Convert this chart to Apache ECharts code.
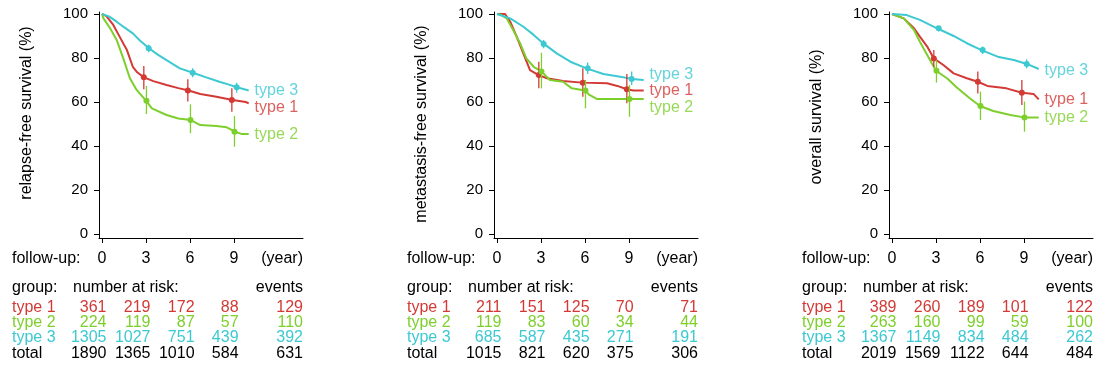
<!DOCTYPE html>
<html>
<head>
<meta charset="utf-8">
<script src="https://cdn.jsdelivr.net/npm/echarts@6/dist/echarts.min.js"></script>
<style>
  html, body { margin: 0; padding: 0; background: #fff; }
  #chart { width: 1095px; height: 369px; }
</style>
</head>
<body>
<div id="chart"></div>
<script>
// ---- labels ----
const groupNames = ['type 1', 'type 2', 'type 3'];
const panelTitles = ['relapse-free survival (%)', 'metastasis-free survival (%)', 'overall survival (%)'];
const yTickValues = [0, 20, 40, 60, 80, 100];
const followUpYears = [0, 3, 6, 9];

// ---- Kaplan-Meier curves: [years, survival %] ----
const rfsType1 = [[0,100],[0.3,99],[0.77,95],[1.2,89.7],[1.5,86],[1.7,83.6],[2.1,76],[2.4,73.5],[2.86,71.2],[3.5,69.5],[4.4,67.7],[5.2,66.3],[5.9,65.2],[6.7,63.6],[7.8,62.4],[8.9,60.9],[9.8,60],[10,59.4]];
const rfsType2 = [[0,100],[0.1,98],[0.55,93.5],[1.0,88.2],[1.45,79.8],[1.9,70.8],[2.36,65.5],[3.0,60.6],[3.4,57.1],[4.4,54.1],[5.2,52.5],[6.05,51.8],[6.7,49.5],[7.8,49.1],[8.5,48.5],[9.07,46.5],[9.5,45.5],[10,45.5]];
const rfsType3 = [[0,100],[0.5,98.8],[1.0,96.5],[1.5,94],[2.1,91.2],[2.6,87.8],[3.2,84.4],[3.8,81.5],[4.4,79],[5.3,75.3],[6.2,73.3],[7.1,71.2],[8.0,69.2],[8.6,68],[9.2,66.7],[10,65.2]];

const mfsType1 = [[0,100],[0.55,100],[0.9,96.5],[1.34,89.7],[1.8,82],[2.25,74.5],[2.8,72.3],[3.4,70.8],[4.5,69.5],[5.8,68.8],[7.5,68.5],[8.2,67.3],[8.85,65.8],[9.3,65.2],[10,65.2]];
const mfsType2 = [[0,100],[0.3,99.5],[0.66,98],[1.1,92.7],[1.57,86.7],[2.0,79.8],[2.5,76],[3.05,73.8],[3.6,70],[4.5,69.2],[5.1,66.2],[6.0,65.2],[6.3,63.2],[6.8,61.4],[9.0,61.4],[10,61.4]];
const mfsType3 = [[0,100],[0.9,98],[1.8,94.2],[2.5,90.5],[3.2,86.4],[4.07,82.1],[5.0,78.3],[6.1,75.3],[7.25,72.7],[8.4,71.5],[9.2,70.5],[10,70]];

const osType1 = [[0,100],[0.8,98],[1.5,93.5],[1.9,89.7],[2.4,85.2],[2.85,79.8],[3.5,76.8],[4.2,73],[5.1,70.8],[5.85,69.2],[6.5,67.3],[7.8,66.2],[8.86,64.2],[9.66,63.6],[10,61.2]];
const osType2 = [[0,100],[0.8,98],[1.5,92.7],[1.9,87.4],[2.4,81.4],[3.0,74.2],[3.75,70.8],[4.4,66.7],[5.3,61.7],[6.0,58.2],[6.9,55.9],[8.07,54.1],[9.0,53],[10,53]];
const osType3 = [[0,100],[1.0,99.5],[1.9,97.3],[3.07,93.5],[4.2,90],[5.1,86.7],[6.1,83.6],[7.2,80.6],[8.3,79.1],[9.2,77.3],[10,75]];

// ---- estimates with 95% CI at 3, 6, 9 years: [estimate, lower, upper] ----
const rfsCi1 = [[71.2,65.8,76.4],[65.2,60.2,70.3],[60.9,55.6,66.2]];
const rfsCi2 = [[60.6,54.5,67.3],[51.8,45.8,58.9],[46.5,39.7,53.6]];
const rfsCi3 = [[84.4,82.6,86.0],[73.3,71.2,75.3],[66.7,64.2,68.8]];

const mfsCi1 = [[72.3,66.2,78.3],[68.8,62.4,75.3],[65.8,59.4,72.7]];
const mfsCi2 = [[73.8,66.2,82.4],[65.2,57.1,70.0],[61.4,53.3,67.7]];
const mfsCi3 = [[86.4,84.4,88.2],[75.3,72.7,77.9],[70.5,67.7,73.8]];

const osCi1 = [[79.8,76.0,83.6],[69.2,63.9,73.8],[64.2,58.6,70.0]];
const osCi2 = [[74.2,68.8,79.1],[58.2,51.8,64.7],[53.0,46.5,60.2]];
const osCi3 = [[93.5,92.0,94.5],[83.6,81.8,85.2],[77.3,75.3,79.4]];
const ciYears = [3, 6, 9];

// ---- number at risk (at 0, 3, 6, 9 years) and events ----
const rfsRisk1 = [361, 219, 172, 88],   rfsEvents1 = 129;
const rfsRisk2 = [224, 119, 87, 57],    rfsEvents2 = 110;
const rfsRisk3 = [1305, 1027, 751, 439], rfsEvents3 = 392;

const mfsRisk1 = [211, 151, 125, 70],   mfsEvents1 = 71;
const mfsRisk2 = [119, 83, 60, 34],     mfsEvents2 = 44;
const mfsRisk3 = [685, 587, 435, 271],  mfsEvents3 = 191;

const osRisk1 = [389, 260, 189, 101],   osEvents1 = 122;
const osRisk2 = [263, 160, 99, 59],     osEvents2 = 100;
const osRisk3 = [1367, 1149, 834, 484], osEvents3 = 262;

// ---- assembly ----
const panels = [
  { curves: [rfsType1, rfsType2, rfsType3], ci: [rfsCi1, rfsCi2, rfsCi3],
    risk: [rfsRisk1, rfsRisk2, rfsRisk3], events: [rfsEvents1, rfsEvents2, rfsEvents3] },
  { curves: [mfsType1, mfsType2, mfsType3], ci: [mfsCi1, mfsCi2, mfsCi3],
    risk: [mfsRisk1, mfsRisk2, mfsRisk3], events: [mfsEvents1, mfsEvents2, mfsEvents3] },
  { curves: [osType1, osType2, osType3], ci: [osCi1, osCi2, osCi3],
    risk: [osRisk1, osRisk2, osRisk3], events: [osEvents1, osEvents2, osEvents3] }
];

// layout / style
const colors = ['#d33a36', '#7dcf2c', '#3cc9d2'];
const FONT = '"Liberation Sans", Arial, Helvetica, sans-serif';
const gridLefts = [99, 494, 889];
const GRID_TOP = 12, GRID_H = 226, GRID_W = 204;
const X_MIN = -0.2045, X_MAX = 13.7;
const Y_MIN = -1.82, Y_MAX = 100.9;
const ciDodge = [-0.15, 0.03, 0.18];          // horizontal offset of CI marks per group
const endLabelX = 10.4;                        // where the group names start
const endLabelY = [[57.6, 45.0, 65.2], [65.2, 57.6, 72.3], [60.9, 53.0, 74.1]];
const ROW_FOLLOW = 259, ROW_GROUP = 288, ROW_BODY = [308, 323, 338, 354];
const titleCenters = [113, 124, 117];

const chart = echarts.init(document.getElementById('chart'), null, { renderer: 'canvas' });

const grids = [], xAxes = [], yAxes = [], series = [];
panels.forEach((p, i) => {
  grids.push({ left: gridLefts[i], top: GRID_TOP, width: GRID_W, height: GRID_H, containLabel: false });
  xAxes.push({
    gridIndex: i, type: 'value', min: X_MIN, max: X_MAX,
    axisLine: { show: true, onZero: false, lineStyle: { color: '#000', width: 1 } },
    axisTick: { show: true, inside: false, length: 5, customValues: followUpYears, lineStyle: { color: '#000' } },
    axisLabel: { show: true, customValues: followUpYears, margin: 13, fontSize: 16, color: '#000', fontFamily: FONT },
    splitLine: { show: false }
  });
  yAxes.push({
    gridIndex: i, type: 'value', min: Y_MIN, max: Y_MAX,
    axisLine: { show: true, onZero: false, lineStyle: { color: '#000', width: 1 } },
    axisTick: { show: true, inside: false, length: 5, customValues: yTickValues, lineStyle: { color: '#000' } },
    axisLabel: { show: true, customValues: yTickValues, margin: 11, fontSize: 15, color: '#000', fontFamily: FONT },
    splitLine: { show: false }
  });

  p.curves.forEach((c, g) => {
    series.push({
      type: 'line', xAxisIndex: i, yAxisIndex: i, data: c, showSymbol: false, symbol: 'none',
      lineStyle: { color: colors[g], width: 2 }, z: 2, silent: true
    });
  });

  p.ci.forEach((rows, g) => {
    series.push({
      type: 'custom', xAxisIndex: i, yAxisIndex: i, z: 3, silent: true,
      data: rows.map((r, k) => [ciYears[k] + ciDodge[g], r[0], r[1], r[2]]),
      encode: { x: 0, y: [1, 2, 3] },
      renderItem: (params, api) => {
        const x = api.value(0);
        const pe = api.coord([x, api.value(1)]);
        const pl = api.coord([x, api.value(2)]);
        const ph = api.coord([x, api.value(3)]);
        return {
          type: 'group', children: [
            { type: 'line', shape: { x1: pl[0], y1: pl[1], x2: ph[0], y2: ph[1] },
              style: { stroke: colors[g], lineWidth: 1.3 } },
            { type: 'circle', shape: { cx: pe[0], cy: pe[1], r: 3 }, style: { fill: colors[g] } }
          ]
        };
      }
    });
  });

  groupNames.forEach((name, g) => {
    series.push({
      type: 'scatter', xAxisIndex: i, yAxisIndex: i, symbolSize: 0, silent: true,
      data: [[endLabelX, endLabelY[i][g]]],
      label: { show: true, position: 'right', distance: 0, formatter: name,
               fontSize: 16, color: colors[g], fontFamily: FONT }
    });
  });
});

chart.setOption({
  animation: false,
  backgroundColor: '#fff',
  textStyle: { fontFamily: FONT },
  grid: grids, xAxis: xAxes, yAxis: yAxes, series: series
});

// number-at-risk table and axis titles, positioned through the x scales
const graphics = [];
function txt(text, x, y, align, color, extra) {
  graphics.push(Object.assign({
    type: 'text', x: x, y: y,
    style: { text: text, fill: color || '#000', font: '16px ' + FONT, textAlign: align, textVerticalAlign: 'middle' },
    silent: true
  }, extra || {}));
}
panels.forEach((p, i) => {
  const px = t => chart.convertToPixel({ xAxisIndex: i }, t);
  const x0 = px(0), xEnd = px(X_MAX);
  const totals = followUpYears.map((_, k) => p.risk.reduce((s, r) => s + r[k], 0));
  const totalEvents = p.events.reduce((s, e) => s + e, 0);

  txt('follow-up:', x0 - 90, ROW_FOLLOW, 'left');
  txt('(year)', xEnd, ROW_FOLLOW, 'right');
  txt('group:', x0 - 90, ROW_GROUP, 'left');
  txt('number at risk:', x0 - 29, ROW_GROUP, 'left');
  txt('events', xEnd, ROW_GROUP, 'right');

  const rows = p.risk.map((r, g) => ({ name: groupNames[g], risk: r, ev: p.events[g], color: colors[g] }));
  rows.push({ name: 'total', risk: totals, ev: totalEvents, color: '#000' });
  rows.forEach((row, r) => {
    const y = ROW_BODY[r];
    txt(row.name, x0 - 90, y, 'left', row.color);
    row.risk.forEach((n, k) => txt(String(n), px(followUpYears[k]) + 4.5, y, 'right', row.color));
    txt(String(row.ev), xEnd, y, 'right', row.color);
  });

  txt(panelTitles[i], gridLefts[i] - 72, titleCenters[i], 'center', '#000', { rotation: Math.PI / 2 });
});
chart.setOption({ graphic: graphics });
</script>
</body>
</html>
